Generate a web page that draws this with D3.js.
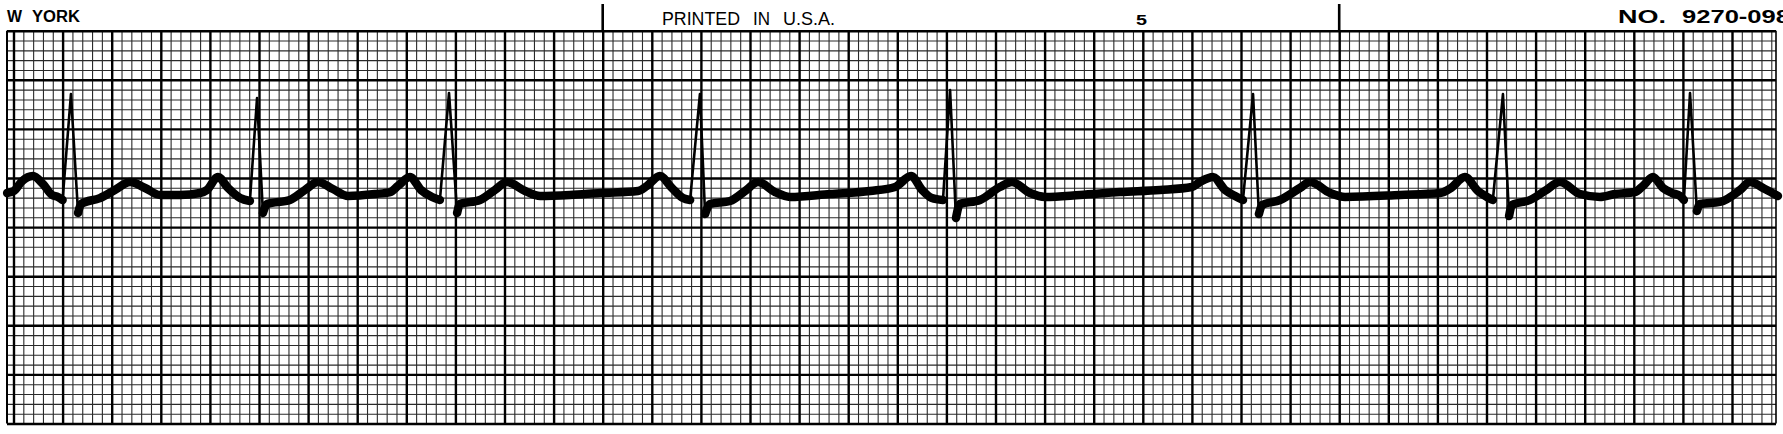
<!DOCTYPE html>
<html>
<head>
<meta charset="utf-8">
<script src="https://cdn.jsdelivr.net/npm/d3@7"></script>
<style>
html,body{margin:0;padding:0;background:#fff;}
svg{display:block;}
.grid .domain{display:none;}
</style>
</head>
<body>
<svg id="chart" width="1783" height="434"></svg>
<script>
// ---- DATA ----
// ECG trace: time (s, 25 mm/s paper) and amplitude (mV, 10 mm/mV) read off the strip
const traceTime = [
 -0.026,0.002,0.035,0.079,0.120,0.157,0.181,0.200,0.234,0.263,0.275,0.352,0.413,0.475,0.536,0.597,0.678,0.760,
 0.788,0.833,0.874,0.923,0.963,0.992,1.016,1.033,1.126,1.187,1.240,1.301,1.363,1.473,1.534,
 1.566,1.615,1.660,1.705,1.737,1.774,1.807,1.819,1.900,1.961,2.010,2.084,2.145,2.267,2.389,2.544,
 2.580,2.633,2.682,2.727,2.756,2.796,2.817,2.837,2.919,2.980,3.033,3.102,3.163,3.326,3.489,
 3.591,3.656,3.701,3.741,3.786,3.815,3.839,3.855,3.937,4.018,4.067,4.141,4.202,4.344,4.507,4.670,4.800,
 4.833,4.886,4.935,4.976,5.008,5.049,5.073,5.086,5.159,5.240,5.281,5.363,5.424,5.648,5.811,
 5.855,5.912,5.965,6.002,6.026,6.067,6.092,6.104,6.177,6.238,6.299,6.381,6.462,6.523,6.605,
 6.637,6.678,6.719,6.756,6.788,6.804,6.829,6.857,6.870,6.951,7.033,7.073,7.134,7.187
];
const traceMv = [
 -0.153,-0.132,-0.031,0.020,-0.061,-0.173,-0.193,-0.224,0.855,-0.356,-0.265,-0.204,-0.122,-0.041,-0.102,-0.173,-0.173,-0.153,
 -0.122,0.010,-0.102,-0.204,-0.234,0.815,-0.356,-0.265,-0.224,-0.122,-0.041,-0.112,-0.183,-0.163,-0.143,
 -0.081,0.010,-0.122,-0.193,-0.224,0.866,-0.356,-0.265,-0.224,-0.122,-0.041,-0.132,-0.183,-0.173,-0.153,-0.132,
 -0.081,0.020,-0.102,-0.204,-0.224,0.855,-0.367,-0.265,-0.234,-0.132,-0.041,-0.143,-0.193,-0.163,-0.132,
 -0.092,0.020,-0.122,-0.204,-0.224,0.896,-0.407,-0.265,-0.224,-0.092,-0.041,-0.153,-0.193,-0.173,-0.143,-0.122,-0.092,
 -0.041,0.010,-0.122,-0.183,-0.224,0.855,-0.367,-0.275,-0.224,-0.102,-0.041,-0.153,-0.193,-0.173,-0.153,
 -0.102,0.010,-0.132,-0.193,-0.224,0.855,-0.387,-0.275,-0.224,-0.132,-0.041,-0.163,-0.193,-0.163,-0.143,
 -0.081,0.010,-0.102,-0.153,-0.183,-0.224,0.866,-0.336,-0.265,-0.244,-0.122,-0.041,-0.112,-0.183
];
// timing marks printed above the grid (s)
const markerTimes = [2.4, 5.4];
// printed header labels
const headerLabels = ["W YORK", "PRINTED IN U.S.A.", "5", "NO. 9270-098"];
// grid steps
const smallStepS = 0.04, largeEvery = 5, smallStepMv = 0.1;

// ---- LAYOUT ----
const svg = d3.select("#chart");
const paper = {left: 7, right: 1776, top: 30.7, bottom: 423.5};
const pxPerSecond = 245.5;
const x = d3.scaleLinear().domain([0, 7.2]).range([13.5, 13.5 + pxPerSecond * 7.2]);
const y = d3.scaleLinear().domain([-2.5, 1.5]).range([paper.bottom, paper.top]);

svg.append("rect").attr("width", 1783).attr("height", 434).attr("fill", "#fff");

// grid tick values
const tMin = x.invert(paper.left), tMax = x.invert(paper.right);
const kT = d3.range(Math.ceil(tMin / smallStepS), Math.floor(tMax / smallStepS) + 1);
const minorT = kT.filter(k => k % largeEvery !== 0).map(k => k * smallStepS);
const majorT = kT.filter(k => k % largeEvery === 0).map(k => k * smallStepS);
const [vLo, vHi] = y.domain();
const kV = d3.range(Math.round(vLo / smallStepMv), Math.round(vHi / smallStepMv) + 1);
const mod = k => ((k % largeEvery) + largeEvery) % largeEvery;
const minorV = kV.filter(k => mod(k) !== 0).map(k => k * smallStepMv);
const majorV = kV.filter(k => mod(k) === 0).map(k => k * smallStepMv);

function vGrid(values, cls, width, color) {
  const g = svg.append("g").attr("class", "grid " + cls)
    .attr("transform", `translate(0,${paper.bottom})`)
    .call(d3.axisTop(x).tickValues(values).tickSize(paper.bottom - paper.top).tickFormat(""));
  g.selectAll(".tick line").attr("stroke", color).attr("stroke-width", width);
}
function hGrid(values, cls, width, color) {
  const g = svg.append("g").attr("class", "grid " + cls)
    .attr("transform", `translate(${paper.left},0)`)
    .call(d3.axisRight(y).tickValues(values).tickSize(paper.right - paper.left).tickFormat(""));
  g.selectAll(".tick line").attr("stroke", color).attr("stroke-width", width);
}
vGrid(minorT, "minor", 1.1, "#2a2a2a");
hGrid(minorV, "minor", 1.1, "#2a2a2a");
vGrid(majorT, "major", 2.4, "#000");
hGrid(majorV, "major", 2.4, "#000");
// paper edges
svg.append("line").attr("x1", paper.left).attr("x2", paper.left).attr("y1", paper.top).attr("y2", paper.bottom)
  .attr("stroke", "#000").attr("stroke-width", 2);
svg.append("line").attr("x1", paper.right).attr("x2", paper.right).attr("y1", paper.top).attr("y2", paper.bottom)
  .attr("stroke", "#000").attr("stroke-width", 1.6);

// timing marks
svg.selectAll(".marker").data(markerTimes).enter().append("line")
  .attr("class", "marker")
  .attr("x1", d => x(d)).attr("x2", d => x(d))
  .attr("y1", 4).attr("y2", paper.top)
  .attr("stroke", "#000").attr("stroke-width", 2.6);

// header labels: each word placed where it is printed
const labelLayout = [
  {y: 21.7, size: 16, weight: "bold", words: [[7, 15], [32, 48]]},
  {y: 25, size: 18, weight: "normal", words: [[662, 78], [753, 17], [783, 52]]},
  {y: 25, size: 14, weight: "bold", words: [[1136, 11]]},
  {y: 22.7, size: 17.5, weight: "bold", words: [[1618, 48], [1682, 108]]}
];
const hdr = svg.selectAll(".hdr").data(headerLabels).enter().append("text")
  .attr("class", "hdr")
  .attr("y", (d, i) => labelLayout[i].y)
  .attr("font-family", "'Liberation Sans', Arial, sans-serif")
  .attr("font-size", (d, i) => labelLayout[i].size)
  .attr("font-weight", (d, i) => labelLayout[i].weight)
  .attr("fill", "#000");
hdr.each(function(d, i) {
  const words = d.split(" ");
  d3.select(this).selectAll("tspan").data(words).enter().append("tspan")
    .attr("x", (w, j) => labelLayout[i].words[j][0])
    .attr("textLength", (w, j) => labelLayout[i].words[j][1])
    .attr("lengthAdjust", "spacingAndGlyphs")
    .text(w => w);
});

// ---- TRACE ----
const pts = traceTime.map((t, i) => [x(t), y(traceMv[i])]);
const runs = [];
let cur = null;
for (let i = 0; i < pts.length - 1; i++) {
  const a = pts[i], b = pts[i + 1];
  const steep = Math.abs((b[1] - a[1]) / (b[0] - a[0])) > 6;
  if (cur && cur.steep === steep) cur.p.push(b);
  else { if (cur) runs.push(cur); cur = {steep, p: [a, b]}; }
}
runs.push(cur);

const smooth = d3.line().curve(d3.curveMonotoneX);
const sharp = d3.line();
svg.append("g").selectAll("path").data(runs.filter(r => !r.steep)).enter().append("path")
  .attr("d", r => smooth(r.p))
  .attr("fill", "none").attr("stroke", "#000").attr("stroke-width", 8.5)
  .attr("stroke-linecap", "round").attr("stroke-linejoin", "round");
svg.append("g").selectAll("path").data(runs.filter(r => r.steep)).enter().append("path")
  .attr("d", r => sharp(r.p))
  .attr("fill", "none").attr("stroke", "#000").attr("stroke-width", 2.6)
  .attr("stroke-linecap", "round").attr("stroke-linejoin", "round");
</script>
</body>
</html>
